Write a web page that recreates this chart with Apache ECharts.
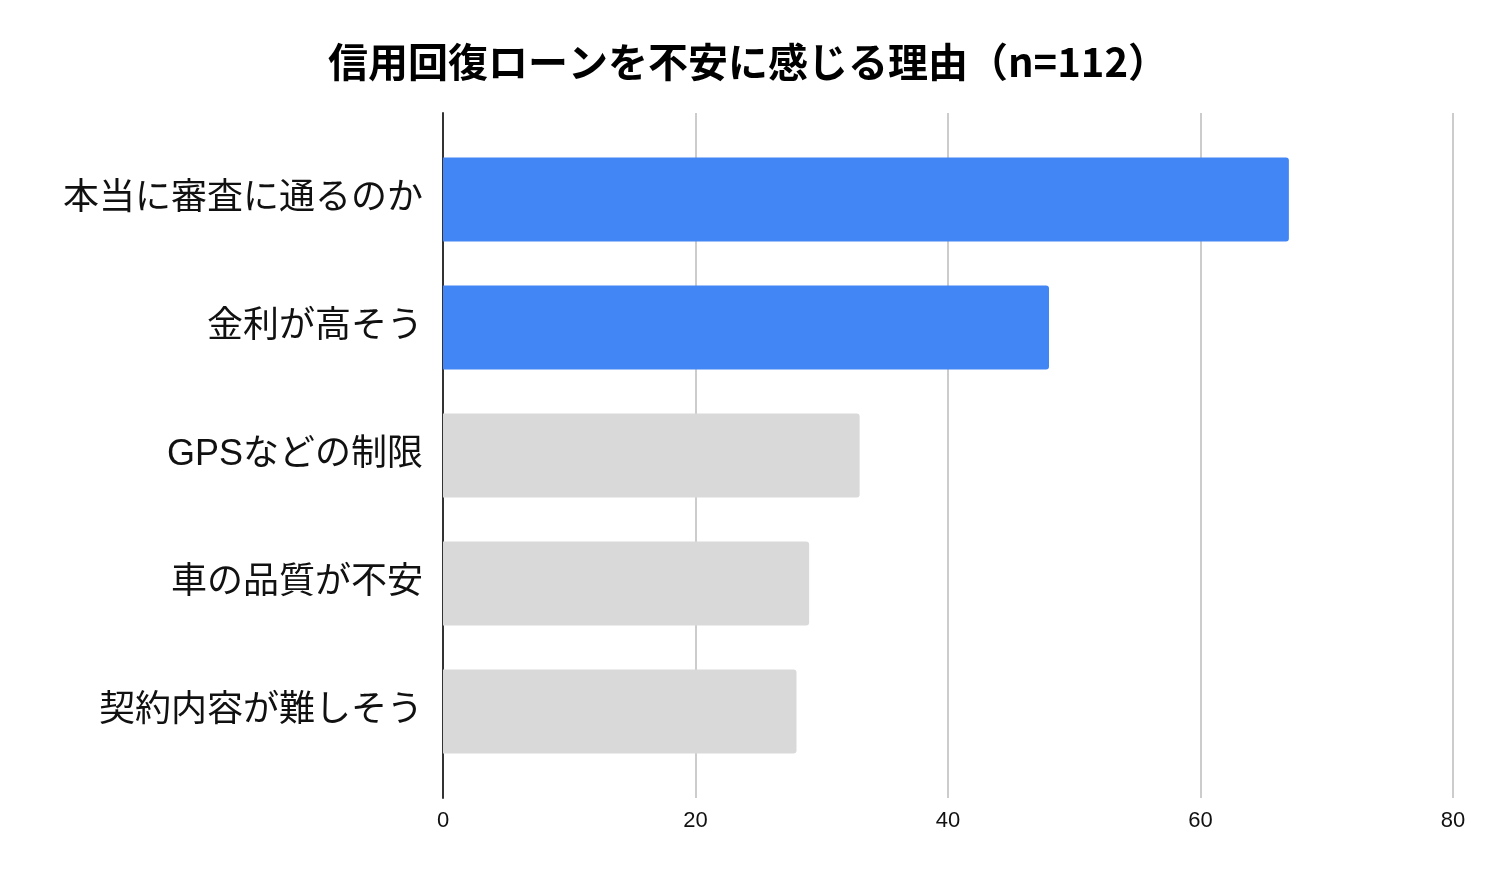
<!DOCTYPE html>
<html>
<head>
<meta charset="utf-8">
<script src="https://cdn.jsdelivr.net/npm/echarts@6/dist/echarts.min.js"></script>
<style>
  html, body { margin: 0; padding: 0; background: #fff; }
  #chart { width: 1496px; height: 877px; }
</style>
</head>
<body>
<div id="chart"></div>
<script>
const title = '信用回復ローンを不安に感じる理由（n=112）';
const categories = ['本当に審査に通るのか', '金利が高そう', 'GPSなどの制限', '車の品質が不安', '契約内容が難しそう'];
const counts = [67, 48, 33, 29, 28];
const xTicks = [0, 20, 40, 60, 80];
const highlightCount = 2; // first two reasons drawn in blue

const el = document.getElementById('chart');
const chart = echarts.init(el);

const xMin = xTicks[0];
const xMax = xTicks[xTicks.length - 1];
const xStep = xTicks[1] - xTicks[0];

const option = {
    backgroundColor: '#ffffff',
    animation: false,
    title: {
        text: title,
        left: 'center',
        top: 37,
        textStyle: {
            fontFamily: 'Noto Sans CJK JP',
            fontWeight: 'bold',
            fontSize: 40,
            color: '#000000'
        }
    },
    grid: [
        // outer grid: gridlines, ticks and the vertical axis line
        {left: 443, right: 43, top: 113, bottom: 79},
        // inner grid: the bars themselves
        {left: 443, right: 43, top: 135.5, bottom: 101.5}
    ],
    xAxis: [
        {
            gridIndex: 0,
            type: 'value',
            min: xMin,
            max: xMax,
            interval: xStep,
            axisLine: {show: false},
            axisTick: {show: false},
            axisLabel: {
                margin: 12,
                fontFamily: 'Liberation Sans',
                fontSize: 22,
                color: '#111111'
            },
            splitLine: {lineStyle: {color: '#cccccc', width: 2}}
        },
        {
            gridIndex: 1,
            type: 'value',
            min: xMin,
            max: xMax,
            show: false
        }
    ],
    yAxis: [
        {
            gridIndex: 0,
            type: 'value',
            min: 0,
            max: 1,
            axisLine: {show: true, lineStyle: {color: '#333333', width: 2}},
            axisTick: {show: false},
            axisLabel: {show: false},
            splitLine: {show: false}
        },
        {
            gridIndex: 1,
            type: 'category',
            inverse: true,
            data: categories,
            axisLine: {show: false},
            axisTick: {show: false},
            axisLabel: {
                margin: 20,
                fontFamily: 'Liberation Sans, Noto Sans CJK JP',
                fontSize: 36,
                color: '#111111'
            }
        }
    ],
    series: [{
        type: 'bar',
        xAxisIndex: 1,
        yAxisIndex: 1,
        data: counts,
        barWidth: 84,
        itemStyle: {
            borderRadius: [0, 3, 3, 0],
            color: function (p) {
                return p.dataIndex < highlightCount ? '#4285f4' : '#d9d9d9';
            }
        }
    }]
};

chart.setOption(option);

window.addEventListener('resize', chart.resize.bind(chart));
</script>
</body>
</html>
